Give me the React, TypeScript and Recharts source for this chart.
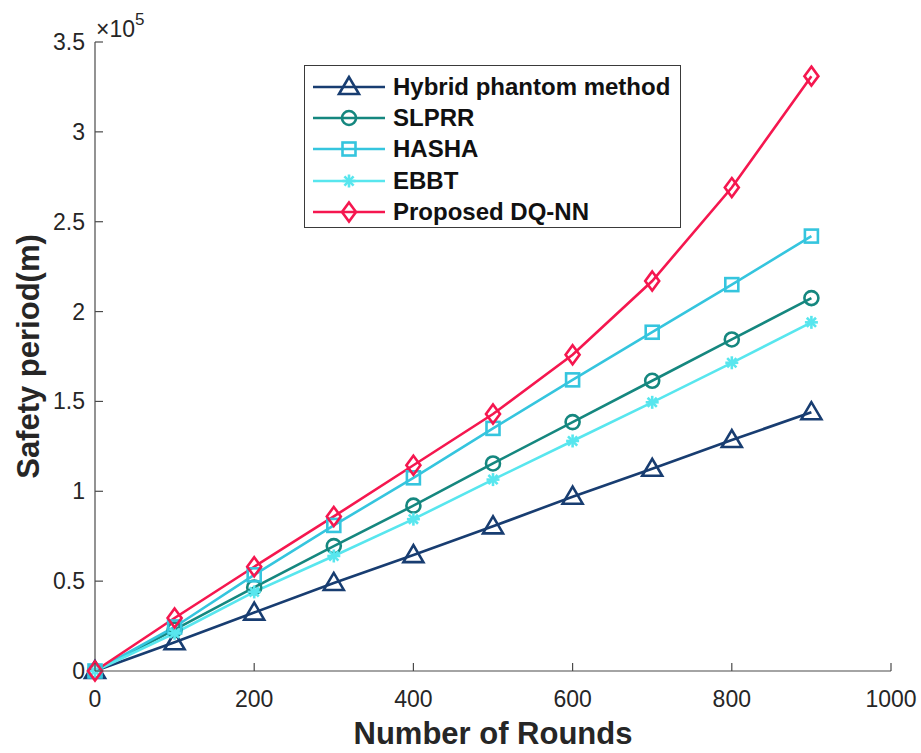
import React from 'react';
import { LineChart, Line, XAxis, YAxis } from 'recharts';

const ROUNDS = [0, 100, 200, 300, 400, 500, 600, 700, 800, 900];
const HYBRID = [0, 16000, 32500, 49000, 64500, 80500, 97000, 112500, 128500, 144000];
const SLPRR = [0, 23000, 46500, 69500, 92000, 115500, 138500, 161500, 184500, 207500];
const HASHA = [0, 24500, 53500, 81000, 107500, 135000, 162000, 188500, 215000, 242000];
const EBBT = [0, 21000, 44000, 64000, 84500, 106500, 128000, 149500, 171500, 194000];
const DQNN = [0, 29500, 58000, 86000, 114500, 143000, 176000, 217000, 269000, 331000];

const X_TICKS = [0, 200, 400, 600, 800, 1000];
const Y_TICKS = [0, 50000, 100000, 150000, 200000, 250000, 300000, 350000];

const SERIES = [
  { key: 'hybrid', name: 'Hybrid phantom method', values: HYBRID, color: '#183D71', marker: 'triangle' },
  { key: 'slprr', name: 'SLPRR', values: SLPRR, color: '#15877F', marker: 'circle' },
  { key: 'hasha', name: 'HASHA', values: HASHA, color: '#35C5DE', marker: 'square' },
  { key: 'ebbt', name: 'EBBT', values: EBBT, color: '#58E6EE', marker: 'asterisk' },
  { key: 'dqnn', name: 'Proposed DQ-NN', values: DQNN, color: '#F5174F', marker: 'diamond' },
];

const data = ROUNDS.map((x, i) => {
  const row: Record<string, number> = { x };
  SERIES.forEach((s) => (row[s.key] = s.values[i]));
  return row;
});

const W = 921;
const H = 753;
const M_TOP = 42;
const M_RIGHT = 30;
const Y_W = 95;
const X_H = 82;
const AX = '#4a4a4a';
const TXT = '#262626';
const FONT = 'Arial, "Liberation Sans", Helvetica, sans-serif';
const TICK_LEN = 8;

function Marker({ type, cx, cy, color }: { type: string; cx: number; cy: number; color: string }) {
  const sw = 2.6;
  if (type === 'triangle') {
    return (
      <polygon
        points={`${cx},${cy - 10} ${cx - 10},${cy + 7} ${cx + 10},${cy + 7}`}
        fill="none" stroke={color} strokeWidth={sw} strokeLinejoin="miter"
      />
    );
  }
  if (type === 'circle') {
    return <circle cx={cx} cy={cy} r={7} fill="none" stroke={color} strokeWidth={sw} />;
  }
  if (type === 'square') {
    return <rect x={cx - 6.5} y={cy - 6.5} width={13} height={13} fill="none" stroke={color} strokeWidth={sw} />;
  }
  if (type === 'diamond') {
    return (
      <polygon
        points={`${cx},${cy - 9.5} ${cx + 7},${cy} ${cx},${cy + 9.5} ${cx - 7},${cy}`}
        fill="none" stroke={color} strokeWidth={sw}
      />
    );
  }
  // asterisk
  const r = 6.5;
  const d = r * 0.707;
  return (
    <g stroke={color} strokeWidth={sw}>
      <line x1={cx - r} y1={cy} x2={cx + r} y2={cy} />
      <line x1={cx} y1={cy - r} x2={cx} y2={cy + r} />
      <line x1={cx - d} y1={cy - d} x2={cx + d} y2={cy + d} />
      <line x1={cx - d} y1={cy + d} x2={cx + d} y2={cy - d} />
    </g>
  );
}

const makeDot = (type: string, color: string) => (props: any) => {
  const { cx, cy, index } = props;
  if (cx == null || cy == null) return <g key={`d-${type}-${index}`} />;
  return (
    <g key={`d-${type}-${index}`}>
      <Marker type={type} cx={cx} cy={cy} color={color} />
    </g>
  );
};

const XTick = (props: any) => {
  const { x, y, payload } = props;
  return (
    <g>
      <line x1={x} x2={x} y1={y} y2={y - TICK_LEN} stroke={AX} strokeWidth={1.2} />
      <text x={x} y={y + 36} textAnchor="middle" fontSize={23} fill={TXT} fontFamily={FONT}>
        {payload.value}
      </text>
    </g>
  );
};

const XTopTick = (props: any) => {
  const { x, y } = props;
  return <line x1={x} x2={x} y1={y} y2={y + TICK_LEN} stroke={AX} strokeWidth={1.2} />;
};

const YTick = (props: any) => {
  const { x, y, payload } = props;
  return (
    <g>
      <line x1={x} x2={x + TICK_LEN} y1={y} y2={y} stroke={AX} strokeWidth={1.2} />
      <text x={x - 10} y={y + 8} textAnchor="end" fontSize={23} fill={TXT} fontFamily={FONT}>
        {payload.value / 100000}
      </text>
    </g>
  );
};

const YRightTick = (props: any) => {
  const { x, y } = props;
  return <line x1={x} x2={x - TICK_LEN} y1={y} y2={y} stroke={AX} strokeWidth={1.2} />;
};

const YTitle = (props: any) => {
  const { viewBox } = props;
  const cx = 39;
  const cy = viewBox.y + viewBox.height / 2;
  return (
    <g>
      <text
        x={cx} y={cy} transform={`rotate(-90 ${cx} ${cy})`} textAnchor="middle"
        fontSize={31} fontWeight="bold" fill={TXT} fontFamily={FONT}
      >
        Safety period(m)
      </text>
      <text x={viewBox.x + viewBox.width + 1} y={viewBox.y - 5} fontSize={23} fill={TXT} fontFamily={FONT}>
        ×10
        <tspan fontSize={17} dy={-12}>5</tspan>
      </text>
    </g>
  );
};

const XTitle = (props: any) => {
  const { viewBox } = props;
  const cx = viewBox.x + viewBox.width / 2;
  return (
    <text x={cx} y={viewBox.y + 73} textAnchor="middle" fontSize={31} fontWeight="bold" fill={TXT} fontFamily={FONT}>
      Number of Rounds
    </text>
  );
};

const LegendBox = () => (
  <div
    style={{
      position: 'absolute',
      left: 304,
      top: 65,
      width: 377,
      height: 163,
      boxSizing: 'border-box',
      border: '1.3px solid #3a3a3a',
      background: '#fff',
      paddingTop: 5,
    }}
  >
    {SERIES.map((s) => (
      <div key={s.key} style={{ display: 'flex', alignItems: 'center', height: 31.3 }}>
        <svg width={86} height={28} style={{ flex: 'none' }}>
          <line x1={8} x2={80} y1={14} y2={14} stroke={s.color} strokeWidth={2.6} />
          <Marker type={s.marker} cx={44} cy={14} color={s.color} />
        </svg>
        <span
          style={{
            fontFamily: FONT,
            fontWeight: 'bold',
            fontSize: 24,
            color: '#111',
            marginLeft: 2,
            lineHeight: '28px',
            whiteSpace: 'nowrap',
          }}
        >
          {s.name}
        </span>
      </div>
    ))}
  </div>
);

export default function App() {
  return (
    <div style={{ position: 'absolute', left: 0, top: 0, width: W, height: H, background: '#fff' }}>
      <LineChart
        width={W}
        height={H}
        data={data}
        margin={{ top: M_TOP, right: M_RIGHT, left: 0, bottom: 0 }}
      >
        <XAxis
          dataKey="x"
          type="number"
          domain={[0, 1000]}
          ticks={X_TICKS}
          interval={0}
          height={X_H}
          tickSize={0}
          tickMargin={0}
          tickLine={false}
          axisLine={{ stroke: AX, strokeWidth: 1.2 }}
          tick={<XTick />}
          label={<XTitle />}
        />
        <XAxis
          xAxisId="top"
          orientation="top"
          dataKey="x"
          type="number"
          domain={[0, 1000]}
          ticks={X_TICKS}
          interval={0}
          height={0}
          tickSize={0}
          tickMargin={0}
          tickLine={false}
          axisLine={{ stroke: AX, strokeWidth: 1.2 }}
          tick={<XTopTick />}
        />
        <YAxis
          type="number"
          domain={[0, 350000]}
          ticks={Y_TICKS}
          interval={0}
          width={Y_W}
          tickSize={0}
          tickMargin={0}
          tickLine={false}
          axisLine={{ stroke: AX, strokeWidth: 1.2 }}
          tick={<YTick />}
          label={<YTitle />}
        />
        <YAxis
          yAxisId="right"
          orientation="right"
          type="number"
          domain={[0, 350000]}
          ticks={Y_TICKS}
          interval={0}
          width={0}
          tickSize={0}
          tickMargin={0}
          tickLine={false}
          axisLine={{ stroke: AX, strokeWidth: 1.2 }}
          tick={<YRightTick />}
        />
        {SERIES.map((s) => (
          <Line
            key={s.key}
            dataKey={s.key}
            name={s.name}
            stroke={s.color}
            strokeWidth={2.6}
            dot={makeDot(s.marker, s.color)}
            activeDot={false}
            isAnimationActive={false}
          />
        ))}
      </LineChart>
      <LegendBox />
    </div>
  );
}
